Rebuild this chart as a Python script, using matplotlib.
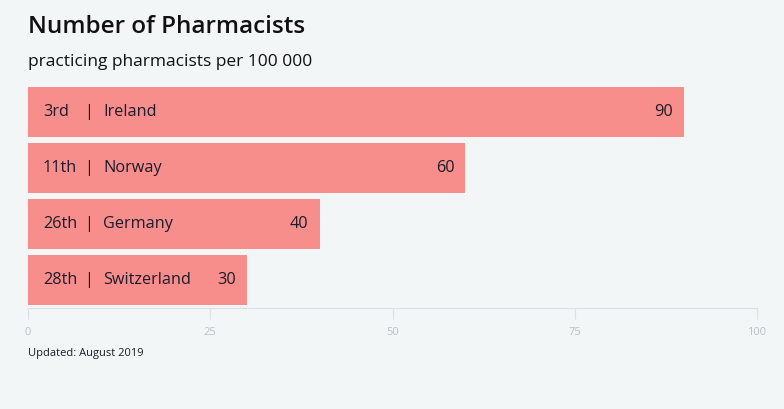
import matplotlib.pyplot as plt

# data
countries = ["Ireland", "Norway", "Germany", "Switzerland"]
ranks = ["3rd", "11th", "26th", "28th"]
values = [90, 60, 40, 30]
ticks = [0, 25, 50, 75, 100]

bg = "#f3f6f7"
bar_color = "#f78e8b"
text_color = "#1c1c2b"

plt.rcParams['font.family'] = ['Open Sans', 'DejaVu Sans']

fig = plt.figure(figsize=(7.84, 4.09), dpi=100, facecolor=bg)
W, H = 784, 409
ax = fig.add_axes([28 / W, 1 - 308 / H, (757 - 28) / W, (308 - 87) / H])
ax.set_facecolor(bg)

ypos = list(range(len(countries)))
ax.barh(ypos, values, height=50 / 56, color=bar_color, zorder=2)
ax.set_xlim(0, 100)
ax.set_ylim(3.5, -0.446)

for y, r, c, v in zip(ypos, ranks, countries, values):
    ax.annotate(r, (0, y), xytext=(15, 0), textcoords="offset pixels",
                va="center", ha="left", fontsize=11.7, color=text_color)
    ax.annotate("|", (0, y), xytext=(61, 0), textcoords="offset pixels",
                va="center", ha="center", fontsize=11.7, color=text_color)
    ax.annotate(c, (0, y), xytext=(75, 0), textcoords="offset pixels",
                va="center", ha="left", fontsize=11.7, color=text_color)
    ax.annotate(str(v), (v, y), xytext=(-11, 0), textcoords="offset pixels",
                va="center", ha="right", fontsize=11.7, color=text_color)

for s in ["top", "right", "left"]:
    ax.spines[s].set_visible(False)
ax.spines["bottom"].set_color("#dde1e4")
ax.set_yticks([])
ax.set_xticks(ticks)
ax.tick_params(axis="x", length=8, color="#dde1e4", labelsize=8,
               labelcolor="#bcc0c3", pad=6)

fig.text(28 / W, 1 - 33 / H, "Number of Pharmacists", fontsize=17.5,
         fontweight="semibold", color="#111111", ha="left", va="baseline")
fig.text(28 / W, 1 - 66 / H, "practicing pharmacists per 100 000", fontsize=12.5,
         color="#111111", ha="left", va="baseline")
fig.text(28 / W, 1 - 356 / H, "Updated: August 2019", fontsize=8,
         color=text_color, ha="left", va="baseline")

fig.savefig("out.png", dpi=100, facecolor=bg)
